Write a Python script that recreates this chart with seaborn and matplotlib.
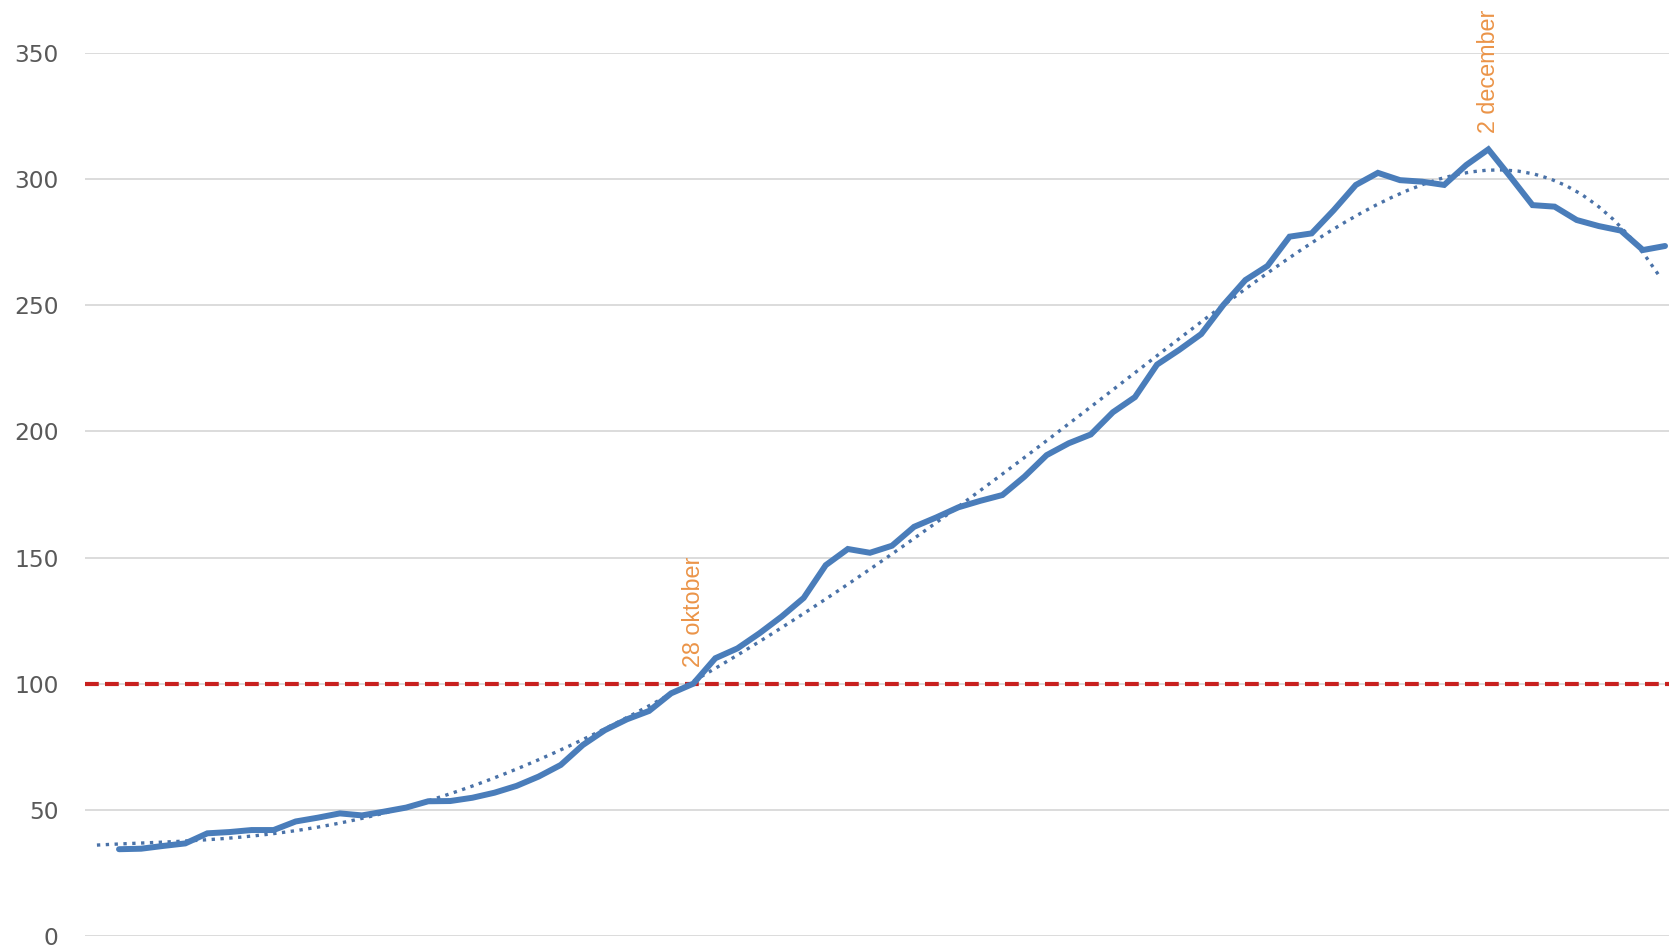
"""Lijngrafiek met trendlijn en drempel van 100 (nagemaakt met seaborn)."""

import matplotlib

matplotlib.use("Agg")
import matplotlib.pyplot as plt
import numpy as np
import seaborn as sns

# Dagwaarden, één waarde per dag
waarden = [
    34.4, 34.6, 35.7, 36.7, 40.7, 41.2, 42.0, 42.0, 45.4, 46.9,
    48.6, 47.8, 49.3, 50.9, 53.4, 53.5, 54.8, 56.8, 59.5, 63.2,
    67.8, 75.7, 81.6, 85.9, 89.2, 96.2, 100.0, 110.1, 114.0, 120.0,
    126.6, 134.0, 147.0, 153.4, 151.9, 154.7, 162.2, 165.9, 169.9, 172.5,
    174.8, 182.1, 190.6, 195.3, 198.8, 207.6, 213.6, 226.5, 232.3, 238.6,
    250.1, 260.0, 265.6, 277.2, 278.5, 287.7, 297.7, 302.5, 299.6, 299.0,
    297.7, 305.6, 311.8, 300.9, 289.7, 289.1, 283.8, 281.4, 279.6, 271.9,
    273.5,
]
dagen = list(range(len(waarden)))

drempel = 100
y_ticks = [0, 50, 100, 150, 200, 250, 300, 350]

# Markeringen: label en dag-index
markering_labels = ["28 oktober", "2 december"]
markering_dagen = [26, 62]

BLAUW = "#4a7dba"
TREND = "#4a72a8"
ROOD = "#c8201e"
ORANJE = "#eb9448"
GRIJS = "#595959"

sns.set_theme(style="white")
plt.rcParams["font.family"] = ["DejaVu Sans"]

W, H = 1669, 948
fig = plt.figure(figsize=(W / 100, H / 100), dpi=100)
ax = fig.add_axes([85 / W, (H - 936) / H, (W - 85) / W, (936 - 53) / H])

# horizontale rasterlijnen
ax.set_ylim(0, 350)
ax.set_yticks(y_ticks)
ax.yaxis.grid(True, color="#d9d9d9", linewidth=1.3)
ax.xaxis.grid(False)
ax.set_axisbelow(True)

# drempel
ax.axhline(drempel, color=ROOD, linewidth=3.0, dashes=(3.3, 1.5), zorder=2)

# trendlijn (polynoom, 6e graad), 1 dag terug voorspeld
ax.set_xlim(-1.0, 69.8)
sns.regplot(
    x=np.array(dagen), y=np.array(waarden), order=6, ci=None, scatter=False,
    truncate=False, ax=ax,
    line_kws=dict(color=TREND, linewidth=2.4, linestyle=":", zorder=3),
)

sns.lineplot(x=dagen, y=waarden, ax=ax, color=BLAUW, linewidth=4.3,
             solid_joinstyle="miter", zorder=4)

for label, dag in zip(markering_labels, markering_dagen):
    ax.text(dag, waarden[dag] + 6.5, label, rotation=90, ha="center",
            va="bottom", color=ORANJE, fontsize=16.8,
            family=["Liberation Sans", "DejaVu Sans"], clip_on=False)

ax.set_xlim(-1.54, 70.18)
ax.set_xticks([])
ax.set_xlabel("")
ax.set_ylabel("")
ax.tick_params(axis="y", length=0, pad=19, labelsize=16.8, labelcolor=GRIJS)
for spine in ax.spines.values():
    spine.set_visible(False)

fig.savefig("out.png", dpi=100, facecolor="white")
plt.close(fig)
